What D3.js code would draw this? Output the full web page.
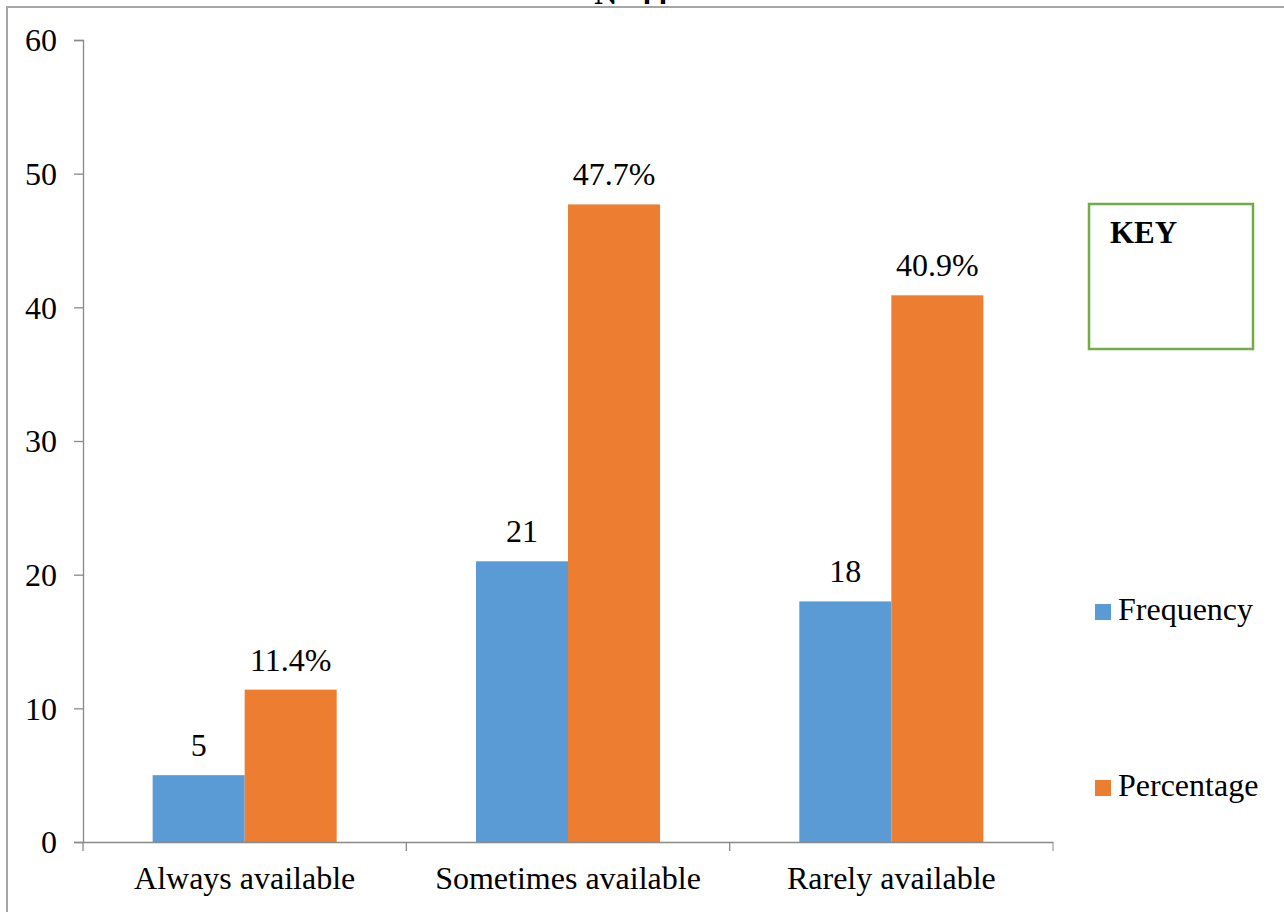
<!DOCTYPE html>
<html>
<head>
<meta charset="utf-8">
<script src="https://cdn.jsdelivr.net/npm/d3@7"></script>
<style>
  body { margin: 0; background: #fff; }
  svg text { font-family: 'Liberation Serif', 'Times New Roman', 'DejaVu Serif', serif; fill: #000; }
</style>
</head>
<body>
<div class="svgcontainer"></div>
<script>
const categories = ['Always available', 'Sometimes available', 'Rarely available'];
const seriesNames = ['Frequency', 'Percentage'];
const frequency = [5, 21, 18];
const percentage = [11.4, 47.7, 40.9];
const yTicks = [0, 10, 20, 30, 40, 50, 60];
const titleText = 'N=44';
const keyTitle = 'KEY';

const svg = d3
  .select('.svgcontainer')
  .append('svg')
  .attr('width', 1284)
  .attr('height', 912);

const margin = {top: 40, right: 231, bottom: 70, left: 83};
const width = Number(svg.attr('width')) - margin.left - margin.right;
const height = Number(svg.attr('height')) - margin.top - margin.bottom;

// outer frame (only top and left edges show)
svg.append('path')
  .attr('d', 'M7,1000V7H1290')
  .attr('fill', 'none')
  .attr('stroke', '#a6a6a6')
  .attr('stroke-width', 2);

// title, clipped by the top edge as in the source
svg.append('text')
  .attr('x', 631)
  .attr('y', 4)
  .attr('text-anchor', 'middle')
  .style('font-size', '32px')
  .style('font-weight', 'bold')
  .text(titleText);

const g = svg.append('g').attr('transform', `translate(${margin.left},${margin.top})`);

const rows = categories.map((c, i) => ({
  cat: c,
  Frequency: frequency[i],
  Percentage: percentage[i],
}));

const color = d3.scaleOrdinal().domain(seriesNames).range(['#5b9bd5', '#ed7d31']);

const x0 = d3.scaleBand().domain(categories).range([0, width]).padding(0);
const x1 = d3.scaleBand().domain(seriesNames).range([0, x0.bandwidth()])
  .paddingInner(0).paddingOuter(0.757);
const y = d3.scaleLinear().domain([0, 60]).range([height, 0]);

// bars
const grp = g.selectAll('.grp')
  .data(rows)
  .enter()
  .append('g')
  .attr('class', 'grp')
  .attr('transform', d => `translate(${x0(d.cat)},0)`);

grp.selectAll('rect')
  .data(d => seriesNames.map(k => ({key: k, value: d[k]})))
  .enter()
  .append('rect')
  .attr('x', d => x1(d.key))
  .attr('y', d => y(d.value))
  .attr('width', x1.bandwidth())
  .attr('height', d => y(0) - y(d.value))
  .attr('fill', d => color(d.key));

grp.selectAll('.lbl')
  .data(d => seriesNames.map(k => ({key: k, value: d[k]})))
  .enter()
  .append('text')
  .attr('class', 'lbl')
  .attr('x', d => x1(d.key) + x1.bandwidth() / 2)
  .attr('y', d => y(d.value) - 19)
  .attr('text-anchor', 'middle')
  .style('font-size', '32px')
  .text(d => d.key === 'Percentage' ? d.value.toFixed(1) + '%' : d.value);

// y axis
const yAxis = g.append('g')
  .call(d3.axisLeft(y).tickValues(yTicks).tickSize(9).tickPadding(17).tickSizeOuter(9));
yAxis.selectAll('text').style('font-size', '32px').attr('dy', '0.34em');

// x axis
const xAxis = g.append('g')
  .attr('transform', `translate(0,${height})`)
  .call(d3.axisBottom(x0).tickSize(0).tickPadding(47));
xAxis.selectAll('text').style('font-size', '32px').attr('dy', '0');
xAxis.selectAll('.tick').append('line')
  .attr('x1', -x0.bandwidth() / 2)
  .attr('x2', -x0.bandwidth() / 2)
  .attr('y2', 9);
g.append('line')
  .attr('x1', width).attr('x2', width)
  .attr('y1', height).attr('y2', height + 9)
  .attr('stroke', '#898989');

g.selectAll('.domain, .tick line').attr('stroke', '#898989').attr('stroke-width', 1.3);

// key box
svg.append('rect')
  .attr('x', 1089)
  .attr('y', 204)
  .attr('width', 164)
  .attr('height', 145)
  .attr('fill', 'none')
  .attr('stroke', '#70ad47')
  .attr('stroke-width', 2.5);

svg.append('text')
  .attr('x', 1110)
  .attr('y', 243)
  .style('font-size', '31px')
  .style('font-weight', 'bold')
  .text(keyTitle);

// legend
const legend = svg.selectAll('.legend')
  .data(seriesNames)
  .enter()
  .append('g')
  .attr('class', 'legend')
  .attr('transform', (d, i) => `translate(1095,${604 + i * 176})`);

legend.append('rect')
  .attr('width', 16)
  .attr('height', 16)
  .attr('fill', d => color(d));

legend.append('text')
  .attr('x', 23)
  .attr('y', 16)
  .style('font-size', '32px')
  .text(d => d);
</script>
</body>
</html>
